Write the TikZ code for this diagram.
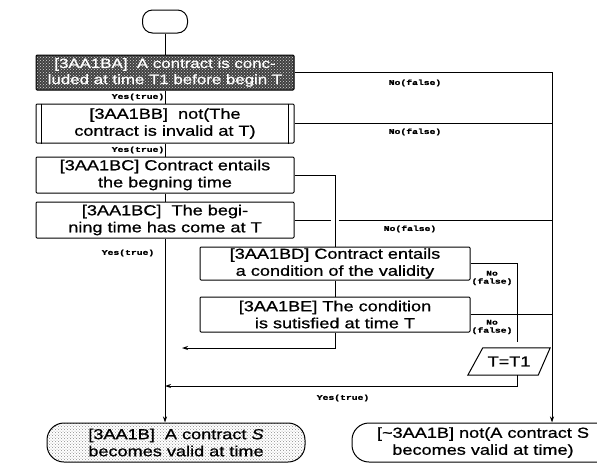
\documentclass[tikz,border=0pt]{standalone}
\usepackage{fontspec}
\setmainfont{Liberation Sans}[FakeStretch=1.25, FakeBold=0.8]
\newfontfamily\lblfont{Liberation Mono}[FakeStretch=1.35, FakeBold=1.5]
\usetikzlibrary{patterns,shapes.geometric,arrows.meta}
\tikzset{
  txt/.style={font=\fontsize{14.5}{17}\selectfont, align=center, inner sep=0pt},
  box/.style={txt, draw, line width=1pt, minimum width=258, minimum height=36, rounded corners=1pt},
  dbox/.style={box, minimum width=270, minimum height=34},
  term/.style={txt, draw, line width=1pt, minimum height=39, rounded corners=17},
  conn/.style={line width=1pt},
  arr/.style={conn, -{Stealth[length=6pt,width=4pt]}},
  lbl/.style={font=\lblfont\bfseries\fontsize{7.2}{8}\selectfont, inner sep=0pt, align=center},
}
\begin{document}
\begin{tikzpicture}[x=1pt,y=-1pt]
\useasboundingbox (0,0) rectangle (597,467);

% start terminal
\node[draw, line width=1pt, minimum width=45, minimum height=23, rounded corners=10] (start) at (165,21.5) {};

% process boxes
\node[box, minimum height=35, text=white, font=\fontsize{13.5}{16}\selectfont, preaction={fill=black!75}, pattern=crosshatch dots, pattern color=white!85!black] (A) at (165,72.5)
  {[3AA1BA]\ \ A contract is conc-\\luded at time T1 before begin T};
\node[box, minimum height=39] (BB) at (165,123.5) {[3AA1BB]\ \ not(The\\contract is invalid at T)};
\draw[line width=0.6pt] ([xshift=6]BB.north west) -- ([xshift=6]BB.south west);
\draw[line width=0.6pt] ([xshift=-6]BB.north east) -- ([xshift=-6]BB.south east);
\node[box] (BC) at (165,175) {[3AA1BC] Contract entails\\the begning time};
\node[box] (BC2) at (165,220) {[3AA1BC]\ \ The begi-\\ning time has come at T};
\node[dbox, minimum height=33] (BD) at (335,263.5) {[3AA1BD] Contract entails\\a condition of the validity};
\node[dbox, minimum height=35] (BE) at (335,314.5) {[3AA1BE] The condition\\is sutisfied at time T};
\node[txt, minimum width=82, minimum height=27] (T1) at (509,361.5) {T=T1};
\draw[line width=1pt] (T1.south west) -- ([xshift=15]T1.north west) -- (T1.north east) -- ([xshift=-12]T1.south east) -- cycle;

% end terminals
\node[term, minimum width=258, pattern=crosshatch dots, pattern color=black!45] (Lt) at (176,442.5)
  {[3AA1B]\ \ A contract \textit{S}\\becomes valid at time};
\node[term, minimum width=262] (Rt) at (483,442.5)
  {[\textasciitilde3AA1B] not(A contract S\\becomes valid at time)};

% helper coordinates
\coordinate (Rx) at (552,0);
\coordinate (b1) at (517,342);
\coordinate (fe) at (182,348);
\coordinate (y1) at (0,386);

% main spine
\draw[conn] (start) -- (A);
\draw[conn] (A) -- (BB);
\draw[conn] (BB) -- (BC);
\draw[conn] (BC) -- (BC2);
\draw[arr] (BC2.south) -- (BC2.south |- Lt.north);

% no branches to right
\draw[arr] (A.east) -- (A.east -| Rx) -- (Rx |- Rt.north);
\draw[conn] (BB.east) -- (BB.east -| Rx);
\draw[conn] (BC.east) -- (BC.east -| BD.north) -- (BD.north);
\draw[conn] (BC2.east) -- ([xshift=36]BC2.east);
\draw[conn] ([xshift=44]BC2.east) -- (BC2.east -| Rx);

% condition checks
\draw[conn] (BD) -- (BE);
\draw[conn] (BD.east) -- (BD.east -| b1) -- (b1);
\draw[conn] (BE.east) -- (BE.east -| b1);
\draw[conn] (BE.east -| b1) -- (BE.east -| Rx);
\draw[arr] (BE.south) -- (BE.south |- fe) -- (fe);
\draw[arr] ([xshift=8]T1.south) -- ([xshift=8]T1.south |- y1) -- (y1 -| BC2.south);

% labels
\node[lbl] (l1) at (138,97) {Yes(true)};
\node[lbl] (l2) at (138,150) {Yes(true)};
\node[lbl] (l3) at (128,253) {Yes(true)};
\node[lbl] (l4) at (343,398) {Yes(true)};
\node[lbl] (n1) at (415,83) {No(false)};
\node[lbl] (n2) at (415,132) {No(false)};
\node[lbl] (n3) at (410,229) {No(false)};
\node[lbl] (n4) at (492,278) {No\\(false)};
\node[lbl] (n5) at (492,327) {No\\(false)};
\end{tikzpicture}
\end{document}
